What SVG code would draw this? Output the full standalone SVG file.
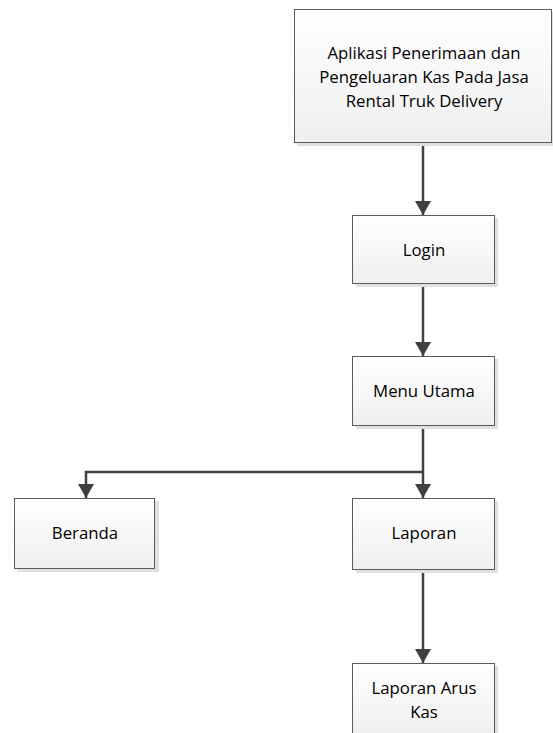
<svg xmlns="http://www.w3.org/2000/svg" width="553" height="733" viewBox="0 0 553 733">
<style>
.box{fill:url(#g);stroke:#5a5a5a;stroke-width:1}
.sh{fill:#e0e0e0}
.t{font-family:"Open Sans","Liberation Sans",Arial,sans-serif;font-size:16.8px;fill:#000;text-anchor:middle}
.c{fill:none;stroke:#404040;stroke-width:2.5}
</style>
<defs>
<linearGradient id="g" x1="0" y1="0" x2="0" y2="1">
<stop offset="0" stop-color="#ffffff"/>
<stop offset="1" stop-color="#efefef"/>
</linearGradient>
<marker id="a" markerUnits="userSpaceOnUse" markerWidth="16" markerHeight="16" refX="14" refY="8" orient="auto" viewBox="0 0 16 16">
<path d="M0,0 L14,8 L0,16 z" fill="#404040"/>
</marker>
</defs>
<rect width="553" height="733" fill="#fff"/>
<g id="connectors">
<path class="c" d="M423,143 V215" marker-end="url(#a)"/>
<path class="c" d="M423,284 V356" marker-end="url(#a)"/>
<path class="c" d="M423,426 V498" marker-end="url(#a)"/>
<path class="c" d="M423,472 H86 V498" marker-end="url(#a)"/>
<path class="c" d="M423,570 V663" marker-end="url(#a)"/>
</g>
<g id="node-app">
<rect class="sh" x="297" y="12" width="258" height="134"/>
<rect class="box" x="294.5" y="9.5" width="257" height="133"/>
<text class="t" x="424" y="59">Aplikasi Penerimaan dan</text>
<text class="t" x="424" y="83">Pengeluaran Kas Pada Jasa</text>
<text class="t" x="424" y="107">Rental Truk Delivery</text>
</g>
<g id="node-login">
<rect class="sh" x="356" y="218" width="142" height="69"/>
<rect class="box" x="352.5" y="215.5" width="142" height="68"/>
<text class="t" x="424" y="256">Login</text>
</g>
<g id="node-menu">
<rect class="sh" x="356" y="359" width="142" height="70"/>
<rect class="box" x="352.5" y="356.5" width="142" height="69"/>
<text class="t" x="424" y="397">Menu Utama</text>
</g>
<g id="node-beranda">
<rect class="sh" x="17" y="501" width="142" height="71"/>
<rect class="box" x="14.5" y="498.5" width="140" height="70"/>
<text class="t" x="85" y="539">Beranda</text>
</g>
<g id="node-laporan">
<rect class="sh" x="356" y="501" width="142" height="72"/>
<rect class="box" x="352.5" y="498.5" width="142" height="71"/>
<text class="t" x="424" y="539">Laporan</text>
</g>
<g id="node-arus">
<rect class="sh" x="356" y="666" width="142" height="72"/>
<rect class="box" x="352.5" y="663.5" width="142" height="72"/>
<text class="t" x="424" y="694">Laporan Arus</text>
<text class="t" x="424" y="718">Kas</text>
</g>
</svg>
